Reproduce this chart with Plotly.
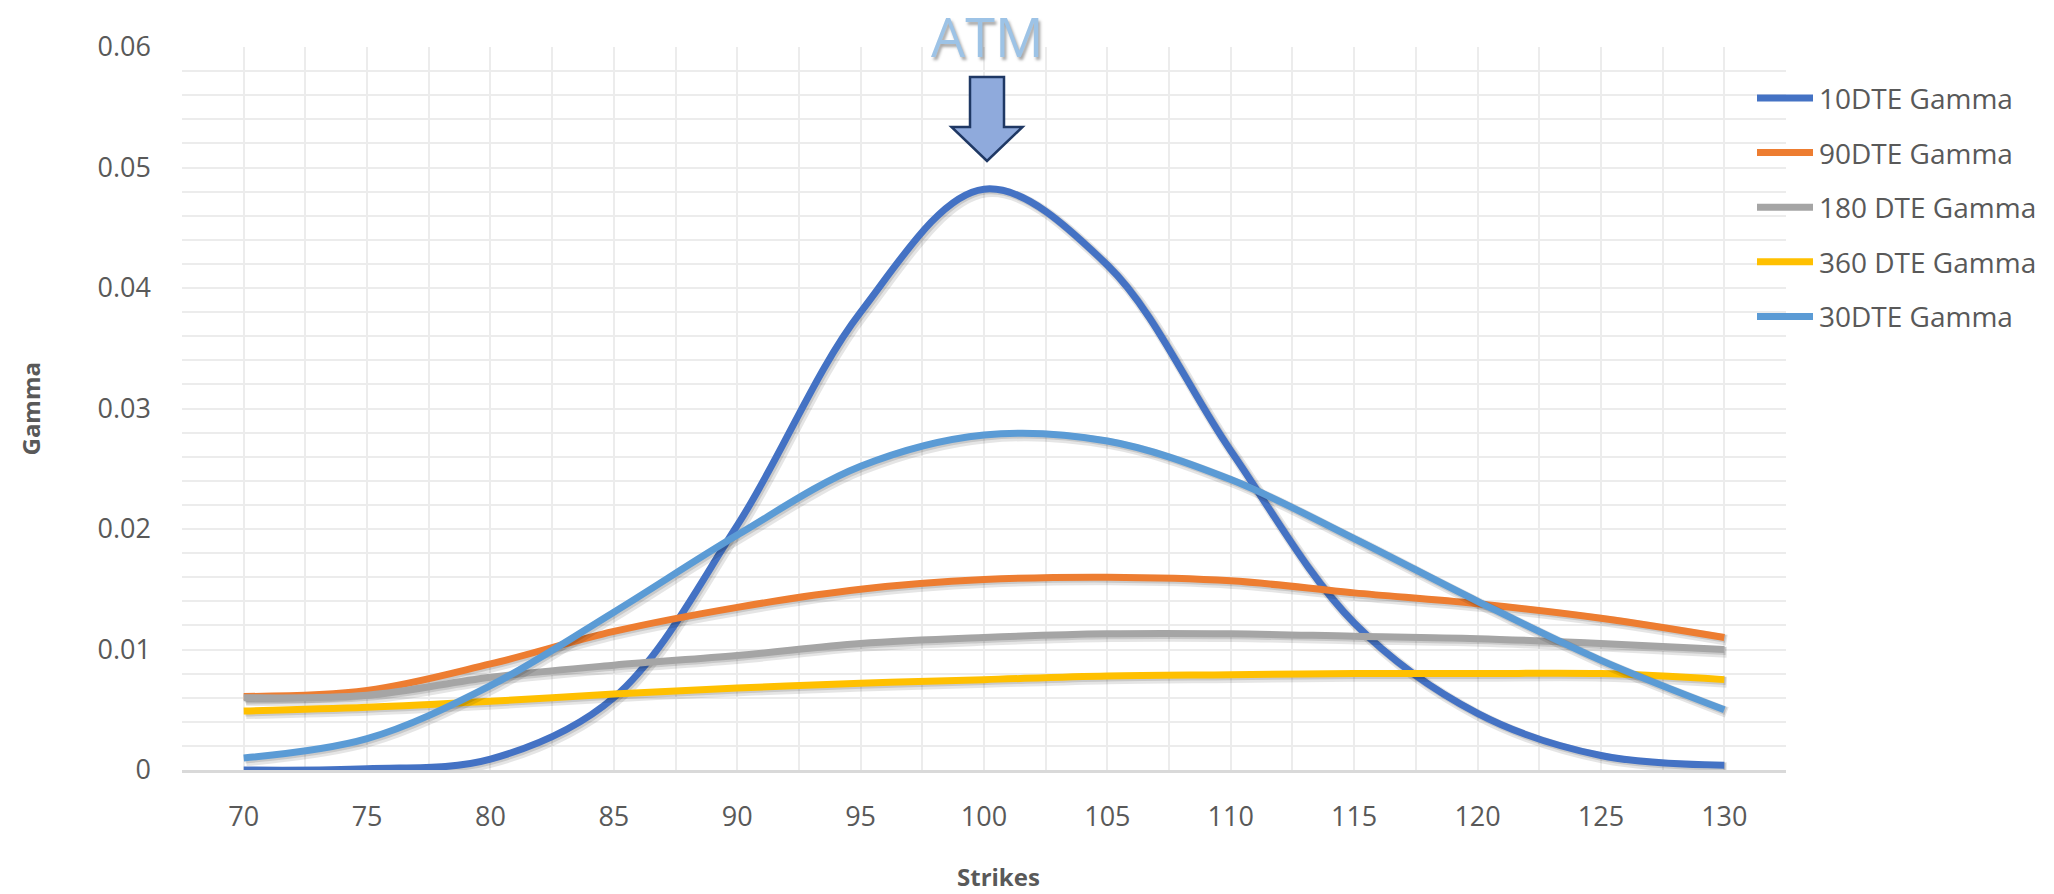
import plotly.graph_objects as go

# Option gamma by strike for several days-to-expiry
strikes = [70, 75, 80, 85, 90, 95, 100, 105, 110, 115, 120, 125, 130]
gamma_10dte = [0.0000, 0.0001, 0.0009, 0.0060, 0.0203, 0.0380, 0.0482, 0.0419, 0.0265, 0.0122, 0.0047, 0.0012, 0.0004]
gamma_90dte = [0.0061, 0.0066, 0.0088, 0.0115, 0.0135, 0.0150, 0.0158, 0.0160, 0.0157, 0.0147, 0.0138, 0.0126, 0.0110]
gamma_180dte = [0.0060, 0.0062, 0.0077, 0.0087, 0.0095, 0.0105, 0.0110, 0.0113, 0.0113, 0.0111, 0.0109, 0.0105, 0.0100]
gamma_360dte = [0.0049, 0.0052, 0.0057, 0.0063, 0.0068, 0.0072, 0.0075, 0.0078, 0.0079, 0.0080, 0.0080, 0.0080, 0.0075]
gamma_30dte = [0.0010, 0.0026, 0.0070, 0.0131, 0.0195, 0.0252, 0.0278, 0.0273, 0.0241, 0.0192, 0.0140, 0.0091, 0.0050]

series_names = ["10DTE Gamma", "90DTE Gamma", "180 DTE Gamma", "360 DTE Gamma", "30DTE Gamma"]
series_values = [gamma_10dte, gamma_90dte, gamma_180dte, gamma_360dte, gamma_30dte]
series_colors = ["#4472C4", "#ED7D31", "#A5A5A5", "#FFC000", "#5B9BD5"]

atm_strike = 100

# page geometry (px)
FIG_W, FIG_H = 2054, 894
M_L, M_R, M_T, M_B = 182, 268, 47, 124
PLOT_W = FIG_W - M_L - M_R
PLOT_H = FIG_H - M_T - M_B

FONT = "Open Sans"
TEXT_COLOR = "#595959"
GRID_COLOR = "#ececec"


def paper_x(px):
    return (px - M_L) / PLOT_W


def paper_y(py):
    return (FIG_H - M_B - py) / PLOT_H


fig = go.Figure()

# soft drop shadow under each line, then the line itself
for name, vals, color in zip(series_names, series_values, series_colors):
    fig.add_trace(go.Scatter(
        x=[s + 0.1 for s in strikes], y=[v - 0.00022 for v in vals],
        mode="lines", line=dict(color="rgba(0,0,0,0.10)", width=11, shape="spline", smoothing=1.0),
        hoverinfo="skip", showlegend=False,
    ))
    fig.add_trace(go.Scatter(
        x=[s + 0.06 for s in strikes], y=[v - 0.00012 for v in vals],
        mode="lines", line=dict(color="rgba(0,0,0,0.12)", width=8, shape="spline", smoothing=1.0),
        hoverinfo="skip", showlegend=False,
    ))
    fig.add_trace(go.Scatter(
        x=strikes, y=vals, name=name, mode="lines",
        line=dict(color=color, width=7, shape="spline", smoothing=1.0),
        showlegend=False,
    ))

shapes = []
annotations = []

# legend: a short stroke plus label for each series
for i, (name, color) in enumerate(zip(series_names, series_colors)):
    yc = paper_y(98 + 54.6 * i)
    shapes.append(dict(
        type="line", xref="paper", yref="paper",
        x0=paper_x(1757), x1=paper_x(1813), y0=yc, y1=yc,
        line=dict(color=color, width=7),
    ))
    annotations.append(dict(
        xref="paper", yref="paper", x=paper_x(1817), y=yc,
        xanchor="left", yanchor="middle", showarrow=False,
        text=name, font=dict(family=FONT, size=28, color=TEXT_COLOR),
    ))

# block arrow pointing at the at-the-money strike
arrow_path = "M-14,-30 L20,-30 L20,-80 L38.5,-80 L3,-114 L-32.5,-80 L-14,-80 Z"
shapes.append(dict(
    type="path", xref="x", yref="paper", xsizemode="pixel", ysizemode="pixel",
    xanchor=atm_strike, yanchor=1, path=arrow_path,
    fillcolor="#8FAADC", line=dict(color="#1F3864", width=2.5), layer="above",
))

annotations.append(dict(
    xref="paper", yref="paper", x=paper_x(987), y=paper_y(36),
    xanchor="center", yanchor="middle", showarrow=False, text="ATM",
    font=dict(family=FONT, size=54, color="#9DC3E6", shadow="2px 3px 3px rgba(0,0,0,0.35)"),
))

# axis titles
annotations.append(dict(
    xref="paper", yref="paper", x=paper_x(999), y=paper_y(876),
    xanchor="center", yanchor="middle", showarrow=False, text="<b>Strikes</b>",
    font=dict(family=FONT, size=24, color=TEXT_COLOR),
))
annotations.append(dict(
    xref="paper", yref="paper", x=paper_x(30), y=0.5,
    xanchor="center", yanchor="middle", showarrow=False, text="<b>Gamma</b>",
    textangle=-90, font=dict(family=FONT, size=24, color=TEXT_COLOR),
))

fig.update_layout(
    width=FIG_W, height=FIG_H, autosize=False,
    margin=dict(l=M_L, r=M_R, t=M_T, b=M_B, pad=0),
    paper_bgcolor="white", plot_bgcolor="white",
    font=dict(family=FONT, color=TEXT_COLOR),
    shapes=shapes, annotations=annotations,
    showlegend=False,
    xaxis=dict(
        range=[strikes[0] - 2.5, strikes[-1] + 2.5],
        tickmode="array", tickvals=strikes, ticktext=[str(s) for s in strikes],
        tickfont=dict(family=FONT, size=27, color=TEXT_COLOR),
        ticks="", ticklabelstandoff=21,
        showgrid=True, gridcolor=GRID_COLOR, gridwidth=2,
        minor=dict(tickmode="linear", tick0=strikes[0] - 2.5, dtick=2.5,
                   showgrid=True, gridcolor=GRID_COLOR, gridwidth=2),
        showline=True, linecolor="#d9d9d9", linewidth=3,
        zeroline=False, fixedrange=True,
    ),
    yaxis=dict(
        range=[0, 0.06], tickmode="linear", tick0=0, dtick=0.01,
        tickfont=dict(family=FONT, size=27, color=TEXT_COLOR),
        ticks="", ticklabelstandoff=30,
        showgrid=True, gridcolor=GRID_COLOR, gridwidth=2,
        minor=dict(tickmode="linear", tick0=0, dtick=0.002,
                   showgrid=True, gridcolor=GRID_COLOR, gridwidth=2),
        showline=False, zeroline=False, fixedrange=True,
    ),
)

fig.write_html("out.html", config={"displayModeBar": False})
